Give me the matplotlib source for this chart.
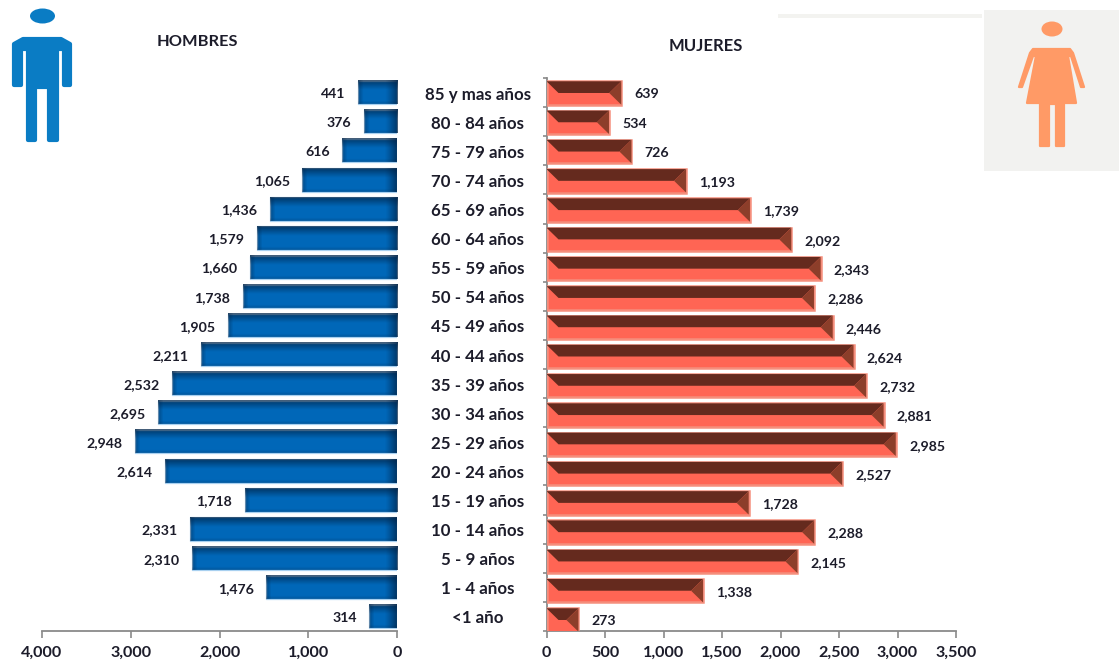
import numpy as np
import matplotlib
matplotlib.use("Agg")
import matplotlib.pyplot as plt
from matplotlib.patches import Polygon, Ellipse, Rectangle
from matplotlib.ticker import FuncFormatter
from matplotlib.transforms import ScaledTranslation

categories = ["85 y mas años", "80 - 84 años", "75 - 79 años", "70 - 74 años", "65 - 69 años",
              "60 - 64 años", "55 - 59 años", "50 - 54 años", "45 - 49 años", "40 - 44 años",
              "35 - 39 años", "30 - 34 años", "25 - 29 años", "20 - 24 años", "15 - 19 años",
              "10 - 14 años", "5 - 9 años", "1 - 4 años", "<1 año"]
hombres = [441, 376, 616, 1065, 1436, 1579, 1660, 1738, 1905, 2211, 2532, 2695, 2948, 2614,
           1718, 2331, 2310, 1476, 314]
mujeres = [639, 534, 726, 1193, 1739, 2092, 2343, 2286, 2446, 2624, 2732, 2881, 2985, 2527,
           1728, 2288, 2145, 1338, 273]
ticks_h = [4000, 3000, 2000, 1000, 0]
ticks_m = [0, 500, 1000, 1500, 2000, 2500, 3000, 3500]

W, H = 1119, 668
FONT = "Lato"
TXT = "#1c1c2a"
plt.rcParams["font.family"] = FONT
plt.rcParams["font.weight"] = "bold"
fig = plt.figure(figsize=(W / 100, H / 100), dpi=100, facecolor="white")


def axes_px(x0, x1, y0, y1):
    return fig.add_axes([x0 / W, 1 - y1 / H, (x1 - x0) / W, (y1 - y0) / H])


axL = axes_px(42, 397, 78, 631)
axR = axes_px(546.5, 956, 78, 631)
axB = axes_px(546.5, 956, 78, 631)   # red bars, spaced slightly wider than the ticks
ypos = np.arange(len(categories))
BAR_H = 0.8
GREY = "#8a8a8a"

for ax in (axL, axR):
    ax.patch.set_alpha(0)
    ax.set_ylim(len(categories) - 0.5, -0.5)
    for s in ("top", "right", "left"):
        ax.spines[s].set_visible(False)
    ax.spines["bottom"].set_color(GREY)
    ax.spines["bottom"].set_linewidth(1.3)
    ax.tick_params(axis="x", length=5, width=1.2, color=GREY, labelsize=11.6, pad=6, labelcolor=TXT)
    ax.xaxis.set_major_formatter(FuncFormatter(lambda v, p: f"{int(v):,}"))

axL.set_xlim(4000, 0)
axL.set_xticks(ticks_h)
axL.set_yticks([])
axR.set_xlim(0, 3500)
axR.set_xticks(ticks_m)

# category labels on the right axis
axR.spines["left"].set_visible(True)
axR.spines["left"].set_color(GREY)
axR.spines["left"].set_linewidth(1.3)
axR.set_yticks(ypos)
axR.set_yticklabels(categories, ha="center", va="center", fontsize=12.2, color=TXT)
axR.tick_params(axis="y", which="major", length=0, pad=49.5)
axR.set_yticks(np.arange(len(categories) + 1) - 0.5, minor=True)
axR.tick_params(axis="y", which="minor", length=3, width=1.2, color=GREY)
down = ScaledTranslation(0, -2 / 100, fig.dpi_scale_trans)
for lab in axR.get_yticklabels():
    lab.set_transform(lab.get_transform() + down)

axB.set_xlim(0, 3500)
axB.set_ylim(18.376, -0.512)
axB.axis("off")
axB.patch.set_alpha(0)

# HOMBRES: blue bars with dark shaded edges
axL.barh(ypos, hombres, height=BAR_H, color="#0067B8", edgecolor="#a8d0f0", linewidth=0.9, zorder=2)
px_per_h = 355 / 4000
bar_px = BAR_H * 553 / 19
for y, v in zip(ypos, hombres):
    nx = max(int(round(v * px_per_h)), 2)
    ny = int(round(bar_px))
    ramp_x = np.clip(1 - (np.arange(nx)[::-1]) / 12.0, 0, 1) ** 1.2 * 0.72  # towards zero end
    ramp_l = np.clip(1 - np.arange(nx) / 5.0, 0, 1) * 0.4
    ramp_y = np.clip(1 - np.arange(ny) / 9.0, 0, 1) ** 1.1 * 0.72
    ramp_b = np.clip(1 - np.arange(ny)[::-1] / 3.0, 0, 1) * 0.2
    a = 1 - (1 - ramp_x[None, :]) * (1 - ramp_l[None, :]) * (1 - ramp_y[:, None]) * (1 - ramp_b[:, None])
    rgba = np.zeros((ny, nx, 4))
    rgba[..., :3] = np.array([0.0, 0.14, 0.28])
    rgba[..., 3] = a
    axL.imshow(rgba, extent=(v, 0, y + BAR_H / 2, y - BAR_H / 2), aspect="auto", zorder=3,
               interpolation="bilinear")
axL.set_xlim(4000, 0)
axL.set_ylim(len(categories) - 0.5, -0.5)

# MUJERES: red bars with bevelled top and right
axB.barh(ypos, mujeres, height=BAR_H, color="#FF6554", edgecolor="#F58E7C", linewidth=1.8, zorder=2)
bw = 12 * 3500 / 409.5   # bevel width in data units
bh = 0.5 * BAR_H
for y, v in zip(ypos, mujeres):
    top, bot = y - BAR_H / 2, y + BAR_H / 2
    b = min(bw, v / 2)
    axB.add_patch(Polygon([(0, top), (v, top), (v - b, top + bh), (b, top + bh)],
                          closed=True, fc="#652A1E", ec="none", zorder=3))
    axB.add_patch(Polygon([(v, top), (v, bot), (v - b, top + bh)],
                          closed=True, fc="#8C3E2A", ec="none", zorder=4))

# value labels
for y, v in zip(ypos, hombres):
    axL.annotate(f"{v:,}", (v, y), xytext=(-9, -1), textcoords="offset points",
                 ha="right", va="center", fontsize=10.2, color=TXT, zorder=5)
for y, v in zip(ypos, mujeres):
    axB.annotate(f"{v:,}", (v, y), xytext=(9.5, -1), textcoords="offset points",
                 ha="left", va="center", fontsize=10.2, color=TXT, zorder=5)

# titles
fig.text(197.5 / W, 1 - 42 / H, "HOMBRES", ha="center", va="center", fontsize=11.8, color=TXT)
fig.text(706 / W, 1 - 46 / H, "MUJERES", ha="center", va="center", fontsize=12, color=TXT)

# overlay in figure pixels for the pictograms
ov = fig.add_axes([0, 0, 1, 1], zorder=10)
ov.set_xlim(0, W)
ov.set_ylim(H, 0)
ov.axis("off")
ov.patch.set_alpha(0)

ov.add_patch(Rectangle((984, 10), 135, 161, fc="#F2F2F0", ec="none"))
ov.add_patch(Rectangle((778, 14), 204, 4, fc="#F3F3F0", ec="none"))

BLUE = "#0A7CC4"
ov.add_patch(Ellipse((42.5, 16), 25, 15, fc=BLUE, ec="none"))
man = [(23, 39), (61, 39), (70, 44), (70, 85), (64, 85), (64, 49), (57, 49), (57, 140), (49, 140),
       (49, 87), (35, 87), (35, 140), (28, 140), (28, 49), (21, 49), (21, 85), (14, 85), (14, 44)]
ov.add_patch(Polygon(man, closed=True, fc=BLUE, ec=BLUE, lw=3.0, joinstyle="round"))

ORANGE = "#FF9A66"
ov.add_patch(Ellipse((1052, 29), 21, 15, fc=ORANGE, ec="none"))
woman = [(1033, 49), (1070, 49), (1073, 53), (1084, 87), (1081, 87), (1071, 56), (1068, 56), (1076, 103),
         (1064, 103), (1064, 146), (1056, 146), (1056, 104), (1049, 104), (1049, 146), (1040, 146),
         (1040, 103), (1027, 103), (1036, 56), (1033, 56), (1022, 87), (1019, 87), (1030, 53)]
ov.add_patch(Polygon(woman, closed=True, fc=ORANGE, ec=ORANGE, lw=1.6, joinstyle="round"))

fig.savefig("out.png", dpi=100, facecolor="white")
